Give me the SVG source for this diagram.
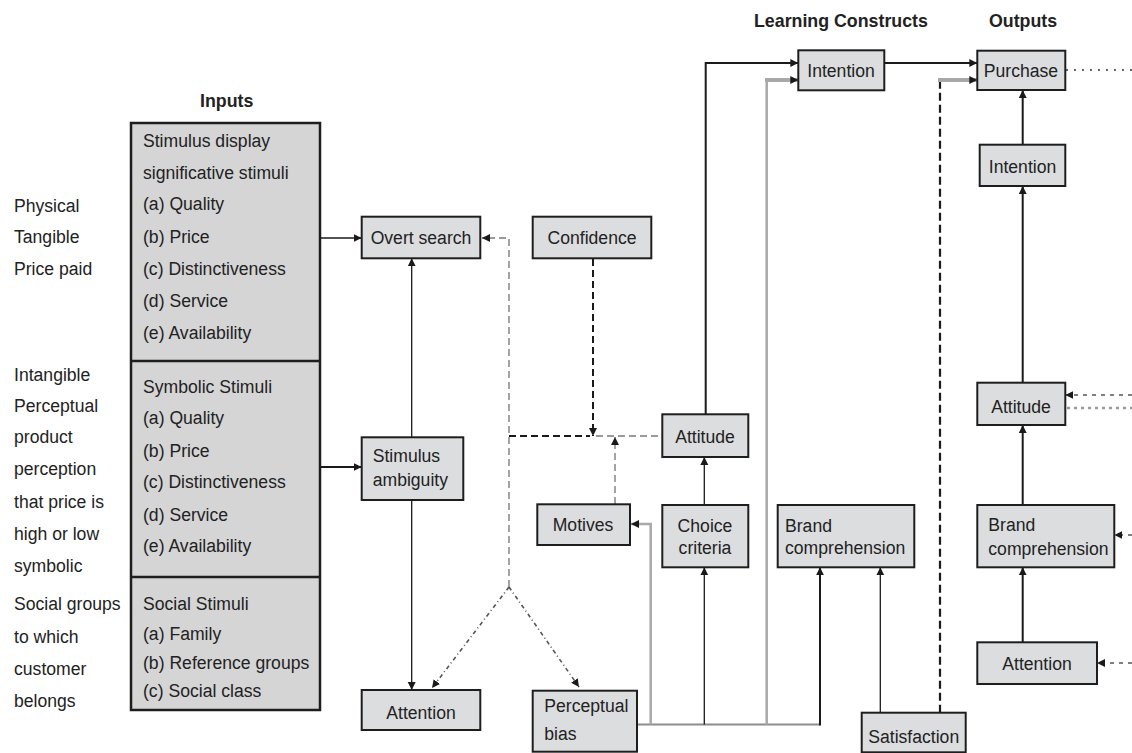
<svg xmlns="http://www.w3.org/2000/svg" width="1132" height="753" viewBox="0 0 1132 753">
  <defs>
    <marker id="ah" markerUnits="userSpaceOnUse" markerWidth="9" markerHeight="9" refX="8" refY="4" orient="auto">
      <path d="M0,0 L8,4 L0,8 z" fill="#1a1a1a"/>
    </marker>
    <style>
      text { font-family: "Liberation Sans", Arial, sans-serif; font-size: 17.6px; fill: #222; }
      .hd { font-weight: bold; font-size: 17.8px; }
      .c { text-anchor: middle; }
      .box { fill: #dcdddf; stroke: #1e1e1e; stroke-width: 2; }
      .inbox { fill: #d5d5d6; stroke: #1e1e1e; stroke-width: 2.5; }
      .ln { fill: none; stroke: #1a1a1a; stroke-width: 1.3; }
      .ln2 { fill: none; stroke: #1a1a1a; stroke-width: 2; }
      .gr { fill: none; stroke: #a8a8a8; stroke-width: 2.5; }
      .grh { fill: none; stroke: #a8a8a8; stroke-width: 4; }
      .gdash { fill: none; stroke: #9a9a9a; stroke-width: 1.8; stroke-dasharray: 7 4; }
      .bdash { fill: none; stroke: #1a1a1a; stroke-width: 2; stroke-dasharray: 7 4; }
      .dd { fill: none; stroke: #555; stroke-width: 1.6; stroke-dasharray: 4 3 1 3; }
      .rdash { fill: none; stroke: #555; stroke-width: 1.5; stroke-dasharray: 4 5; }
      .rdot { fill: none; stroke: #9a9a9a; stroke-width: 2.5; stroke-dasharray: 3 4; }
    </style>
  </defs>

  <rect width="1132" height="753" fill="#ffffff"/>

  <!-- column headings -->
  <text class="hd" x="200" y="107">Inputs</text>
  <text class="hd" x="754" y="27">Learning Constructs</text>
  <text class="hd" x="989" y="27">Outputs</text>

  <!-- side labels for the input categories -->
  <g id="input-labels">
    <text x="14" y="212">Physical</text>
    <text x="14" y="243">Tangible</text>
    <text x="14" y="275">Price paid</text>
    <text x="14" y="381">Intangible</text>
    <text x="14" y="412">Perceptual</text>
    <text x="14" y="443">product</text>
    <text x="14" y="475">perception</text>
    <text x="14" y="508">that price is</text>
    <text x="14" y="540">high or low</text>
    <text x="14" y="572">symbolic</text>
    <text x="14" y="610">Social groups</text>
    <text x="14" y="643">to which</text>
    <text x="14" y="675">customer</text>
    <text x="14" y="707">belongs</text>
  </g>

  <!-- inputs panel with three stimulus sections -->
  <g id="inputs">
    <rect class="inbox" x="131" y="123" width="189" height="587"/>
    <line x1="131" y1="361" x2="320" y2="361" stroke="#1e1e1e" stroke-width="2.5"/>
    <line x1="131" y1="577" x2="320" y2="577" stroke="#1e1e1e" stroke-width="2.5"/>
    <text x="143" y="147">Stimulus display</text>
    <text x="143" y="179">significative stimuli</text>
    <text x="143" y="210">(a) Quality</text>
    <text x="143" y="243">(b) Price</text>
    <text x="143" y="275">(c) Distinctiveness</text>
    <text x="143" y="307">(d) Service</text>
    <text x="143" y="339">(e) Availability</text>
    <text x="143" y="393">Symbolic Stimuli</text>
    <text x="143" y="424">(a) Quality</text>
    <text x="143" y="457">(b) Price</text>
    <text x="143" y="488">(c) Distinctiveness</text>
    <text x="143" y="521">(d) Service</text>
    <text x="143" y="552">(e) Availability</text>
    <text x="143" y="610">Social Stimuli</text>
    <text x="143" y="640">(a) Family</text>
    <text x="143" y="669">(b) Reference groups</text>
    <text x="143" y="697">(c) Social class</text>
  </g>

  <!-- connectors -->
  <g id="connectors">
    <path class="ln" d="M320,238 H361.7" marker-end="url(#ah)"/>
    <path class="ln2" d="M320,467 H361.7" marker-end="url(#ah)"/>
    <path class="ln" d="M411.7,437.3 V258.3" marker-end="url(#ah)"/>
    <path class="ln" d="M411.7,500 V690" marker-end="url(#ah)"/>

    <path class="gdash" d="M509,587 V238 H482" marker-end="url(#ah)"/>
    <path class="bdash" d="M593,259 V436" marker-end="url(#ah)"/>
    <path class="bdash" d="M509,436 H590"/>
    <path class="gdash" d="M596,436 H662.3"/>
    <path class="gdash" d="M615,504 V437" marker-end="url(#ah)"/>

    <path class="dd" d="M509,587 L432,688" marker-end="url(#ah)"/>
    <path class="dd" d="M509,587 L579,687" marker-end="url(#ah)"/>

    <path fill="none" stroke="#8c8c8c" stroke-width="2" d="M637,724.5 H820"/>
    <path class="gr" d="M650.7,724.5 V524 H631" marker-end="url(#ah)"/>
    <path class="ln" d="M704.3,724.5 V567.3" marker-end="url(#ah)"/>
    <path class="gr" d="M766.7,724.5 V80"/>
    <path class="grh" d="M765,80 H798.3" marker-end="url(#ah)"/>
    <path class="ln2" d="M820,725.5 V567.3" marker-end="url(#ah)"/>
    <path class="ln" d="M704.3,505 V457" marker-end="url(#ah)"/>
    <path class="ln2" d="M705.7,414.3 V63 H798.3" marker-end="url(#ah)"/>
    <path class="ln2" d="M884.3,63 H977.3" marker-end="url(#ah)"/>
    <path class="ln" d="M880.3,712.7 V567.3" marker-end="url(#ah)"/>
    <path fill="none" stroke="#1a1a1a" stroke-width="2.2" stroke-dasharray="8 4" d="M940,712.7 V82"/>
    <path class="grh" d="M938,80 H977.3" marker-end="url(#ah)"/>

    <path fill="none" stroke="#333" stroke-width="1.6" stroke-dasharray="2 6" d="M1066,70 H1132"/>
    <path class="ln2" d="M1022.7,144.7 V90" marker-end="url(#ah)"/>
    <path class="ln2" d="M1022.7,382.7 V186" marker-end="url(#ah)"/>
    <path class="ln2" d="M1022.7,505 V425" marker-end="url(#ah)"/>
    <path class="ln2" d="M1022.7,642.3 V567.3" marker-end="url(#ah)"/>

    <path class="rdash" d="M1132,395 H1065.3" marker-end="url(#ah)"/>
    <path class="rdot" d="M1067,408 H1132"/>
    <path class="rdash" d="M1132,535 H1114.3" marker-end="url(#ah)"/>
    <path class="rdash" d="M1132,663 H1097" marker-end="url(#ah)"/>
  </g>

  <!-- nodes -->
  <g id="overt-search">
    <rect class="box" x="361.7" y="216.7" width="118.6" height="41.6"/>
    <text class="c" x="421" y="244">Overt search</text>
  </g>
  <g id="confidence">
    <rect class="box" x="532.7" y="216.7" width="118.6" height="41.6"/>
    <text class="c" x="592" y="244">Confidence</text>
  </g>
  <g id="stimulus-ambiguity">
    <rect class="box" x="361.7" y="437.3" width="101.6" height="62.7"/>
    <text x="372.7" y="462">Stimulus</text>
    <text x="372.7" y="486">ambiguity</text>
  </g>
  <g id="attention-left">
    <rect class="box" x="361.7" y="690" width="118.6" height="40"/>
    <text class="c" x="421" y="719">Attention</text>
  </g>
  <g id="perceptual-bias">
    <rect class="box" x="532.7" y="690.7" width="104.3" height="61"/>
    <text x="544.3" y="712">Perceptual</text>
    <text x="544.3" y="740">bias</text>
  </g>
  <g id="motives">
    <rect class="box" x="537.3" y="504.3" width="92.7" height="40.7"/>
    <text class="c" x="583" y="531">Motives</text>
  </g>
  <g id="attitude-mid">
    <rect class="box" x="662.3" y="414.3" width="86" height="42.7"/>
    <text class="c" x="705" y="443">Attitude</text>
  </g>
  <g id="choice-criteria">
    <rect class="box" x="662.3" y="505" width="86" height="62.3"/>
    <text class="c" x="705" y="532">Choice</text>
    <text class="c" x="705" y="554">criteria</text>
  </g>
  <g id="brand-comprehension-mid">
    <rect class="box" x="777.7" y="505" width="136.6" height="62.3"/>
    <text x="785" y="532">Brand</text>
    <text x="785" y="554">comprehension</text>
  </g>
  <g id="satisfaction">
    <rect class="box" x="861.7" y="712.7" width="104" height="39.6"/>
    <text class="c" x="913.7" y="743">Satisfaction</text>
  </g>
  <g id="intention-learning">
    <rect class="box" x="798.3" y="50.3" width="86" height="40"/>
    <text class="c" x="841" y="77">Intention</text>
  </g>
  <g id="purchase">
    <rect class="box" x="977.3" y="50.7" width="88" height="39.3"/>
    <text class="c" x="1021" y="77">Purchase</text>
  </g>
  <g id="intention-output">
    <rect class="box" x="979.7" y="144.7" width="85.6" height="41.3" stroke-width="3"/>
    <text class="c" x="1022.5" y="173">Intention</text>
  </g>
  <g id="attitude-output">
    <rect class="box" x="977.3" y="382.7" width="88" height="42.3"/>
    <text class="c" x="1021" y="413">Attitude</text>
  </g>
  <g id="brand-comprehension-output">
    <rect class="box" x="977.3" y="505" width="137" height="62.3"/>
    <text x="988.3" y="531">Brand</text>
    <text x="988.3" y="555">comprehension</text>
  </g>
  <g id="attention-output">
    <rect class="box" x="977.3" y="642.3" width="119.7" height="41.7"/>
    <text class="c" x="1037" y="670">Attention</text>
  </g>
</svg>
